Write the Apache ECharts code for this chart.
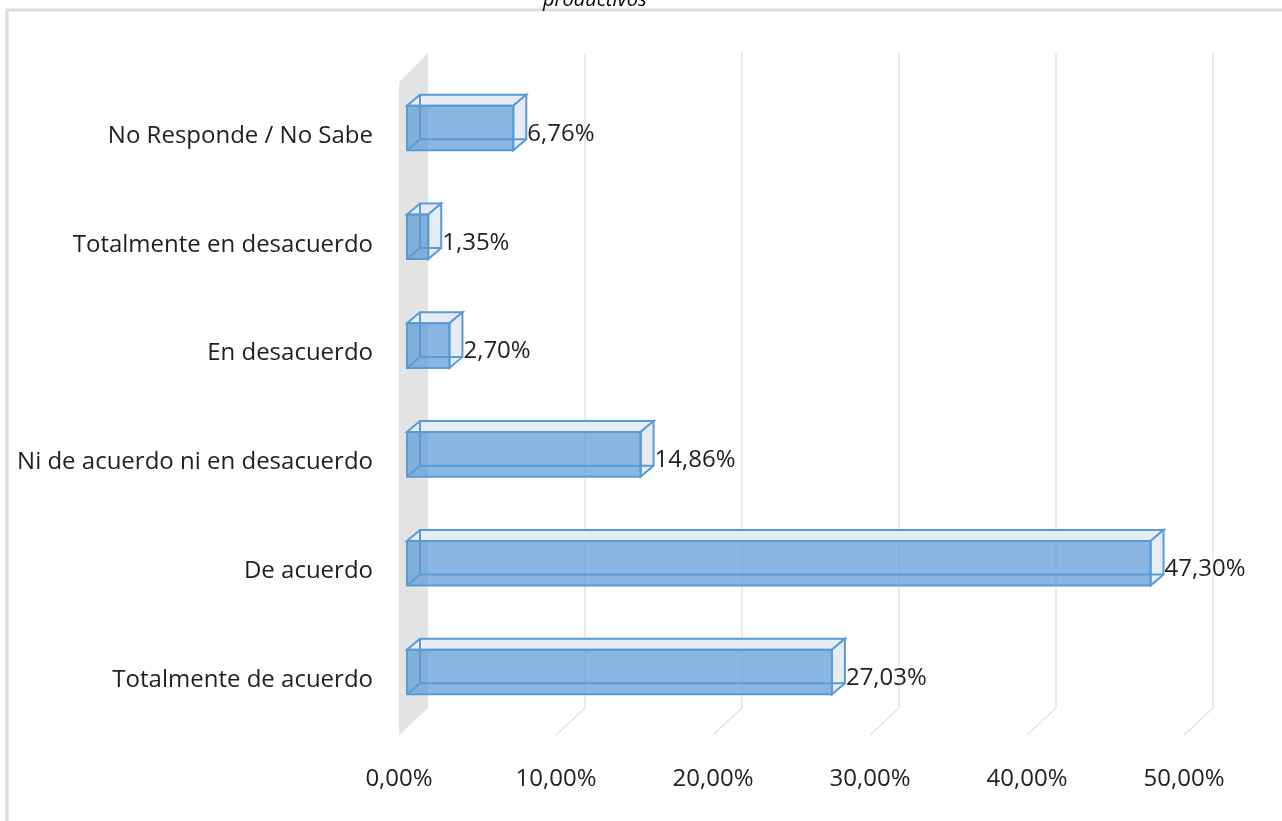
<!DOCTYPE html>
<html>
<head>
<meta charset="utf-8">
<script src="https://cdn.jsdelivr.net/npm/echarts@6/dist/echarts.min.js"></script>
<style>
  html, body { margin: 0; padding: 0; background: #fff; }
  #chart { width: 1282px; height: 821px; }
</style>
</head>
<body>
<div id="chart"></div>
<script>
// data
var categories = ['No Responde / No Sabe', 'Totalmente en desacuerdo', 'En desacuerdo',
  'Ni de acuerdo ni en desacuerdo', 'De acuerdo', 'Totalmente de acuerdo'];
var values = [6.76, 1.35, 2.70, 14.86, 47.30, 27.03];
var ticks = [0, 10, 20, 30, 40, 50];
var titleText = 'productivos';

var FONT = "'Open Sans', sans-serif";
var TEXT = '#1f1f1f';
var BLUE = '#5b9bd5';

function pct(v) {
  return v.toFixed(2).replace('.', ',') + '%';
}

var chart = echarts.init(document.getElementById('chart'));

// 3D box: front face + depth offset up/right
var DX = 13, DY = -11;

function renderBar(params, api) {
  var v = api.value(0);
  var c = api.value(1);
  var p0 = api.coord([0, c]);
  var p1 = api.coord([v, c]);
  var h = api.size([0, 1])[1] * 0.41 / 2;
  var x0 = p0[0], x1 = p1[0], yT = p0[1] - h, yB = p0[1] + h;
  var lineStyle = { stroke: BLUE, lineWidth: 2, fill: null };
  return {
    type: 'group',
    children: [
      { type: 'polygon', shape: { points: [[x0, yT], [x1, yT], [x1 + DX, yT + DY], [x0 + DX, yT + DY]] },
        style: { fill: '#e6ecf4', stroke: BLUE, lineWidth: 2 } },
      { type: 'polygon', shape: { points: [[x1, yT], [x1 + DX, yT + DY], [x1 + DX, yB + DY], [x1, yB]] },
        style: { fill: '#e6ecf4', stroke: BLUE, lineWidth: 2 } },
      { type: 'rect', shape: { x: x0, y: yT, width: x1 - x0, height: yB - yT },
        style: { fill: 'rgba(91,155,213,0.72)', stroke: BLUE, lineWidth: 2 } },
      { type: 'polyline', shape: { points: [[x0 + DX, yT + DY], [x0 + DX, yB + DY], [x1 + DX, yB + DY]] },
        style: lineStyle },
      { type: 'line', shape: { x1: x0, y1: yB, x2: x0 + DX, y2: yB + DY }, style: lineStyle },
      { type: 'text', x: x1 + DX + 1, y: p0[1] + 6,
        style: { text: pct(v), fill: TEXT, font: '24px ' + FONT, textVerticalAlign: 'middle', textAlign: 'left' } }
    ]
  };
}

// back wall gridlines, floor lines and the left side wall
var WX = -29, WY = 27;
function renderWall(params, api) {
  var v = api.value(0);
  var top = api.coord([v, 1]);
  var bot = api.coord([v, 0]);
  var grey = '#e4e4e4';
  var children = [];
  if (v === 0) {
    children.push({ type: 'polygon',
      shape: { points: [[top[0], top[1]], [bot[0], bot[1]], [bot[0] + WX, bot[1] + WY], [top[0] + WX, top[1] - WX]] },
      style: { fill: '#e3e3e3' } });
  } else {
    children.push({ type: 'line', shape: { x1: top[0], y1: top[1], x2: bot[0], y2: bot[1] },
      style: { stroke: grey, lineWidth: 1.5 } });
    children.push({ type: 'line', shape: { x1: bot[0], y1: bot[1], x2: bot[0] + WX, y2: bot[1] + WY },
      style: { stroke: grey, lineWidth: 1.5 } });
  }
  return { type: 'group', children: children };
}

var option = {
  animation: false,
  backgroundColor: '#fff',
  textStyle: { fontFamily: FONT },
  title: {
    text: titleText,
    left: 538,
    top: -15,
    textStyle: { fontFamily: FONT, fontStyle: 'italic', fontWeight: 'normal', fontSize: 20, color: '#000' }
  },
  graphic: [{
    type: 'rect', z: -10, silent: true,
    shape: { x: 7, y: 10, width: 1300, height: 840 },
    style: { fill: null, stroke: '#dcdcdc', lineWidth: 3 }
  }],
  grid: [
    { left: 407, right: 89, top: 73.6, bottom: 94.6 },
    { left: 428, right: 69, top: 53, bottom: 113 },
    { left: 399, right: 98, top: 82, bottom: 86 },
    { left: 407, right: 89, top: 81.6, bottom: 86.6 }
  ],
  xAxis: [
    { gridIndex: 0, type: 'value', min: 0, max: 50, show: false },
    { gridIndex: 1, type: 'value', min: 0, max: 50, show: false },
    { gridIndex: 2, type: 'value', min: 0, max: 50, interval: 10,
      axisLine: { show: false }, axisTick: { show: false }, splitLine: { show: false },
      axisLabel: { margin: 32, fontSize: 24, color: TEXT, fontFamily: FONT, formatter: pct } },
    { gridIndex: 3, type: 'value', min: 0, max: 50, show: false }
  ],
  yAxis: [
    { gridIndex: 0, type: 'category', inverse: true, data: categories, show: false },
    { gridIndex: 1, type: 'value', min: 0, max: 1, show: false },
    { gridIndex: 2, type: 'value', min: 0, max: 1, show: false },
    { gridIndex: 3, type: 'category', inverse: true, data: categories,
      axisLine: { show: false }, axisTick: { show: false }, splitLine: { show: false },
      axisLabel: { margin: 34, fontSize: 24, color: TEXT, fontFamily: FONT } }
  ],
  series: [
    {
      type: 'custom', xAxisIndex: 1, yAxisIndex: 1, z: 1,
      renderItem: renderWall,
      data: ticks.map(function (t) { return [t]; })
    },
    {
      type: 'custom', xAxisIndex: 0, yAxisIndex: 0, z: 5,
      renderItem: renderBar,
      encode: { x: 0, y: 1 },
      data: values.map(function (v, i) { return [v, i]; })
    }
  ]
};

chart.setOption(option);
</script>
</body>
</html>
